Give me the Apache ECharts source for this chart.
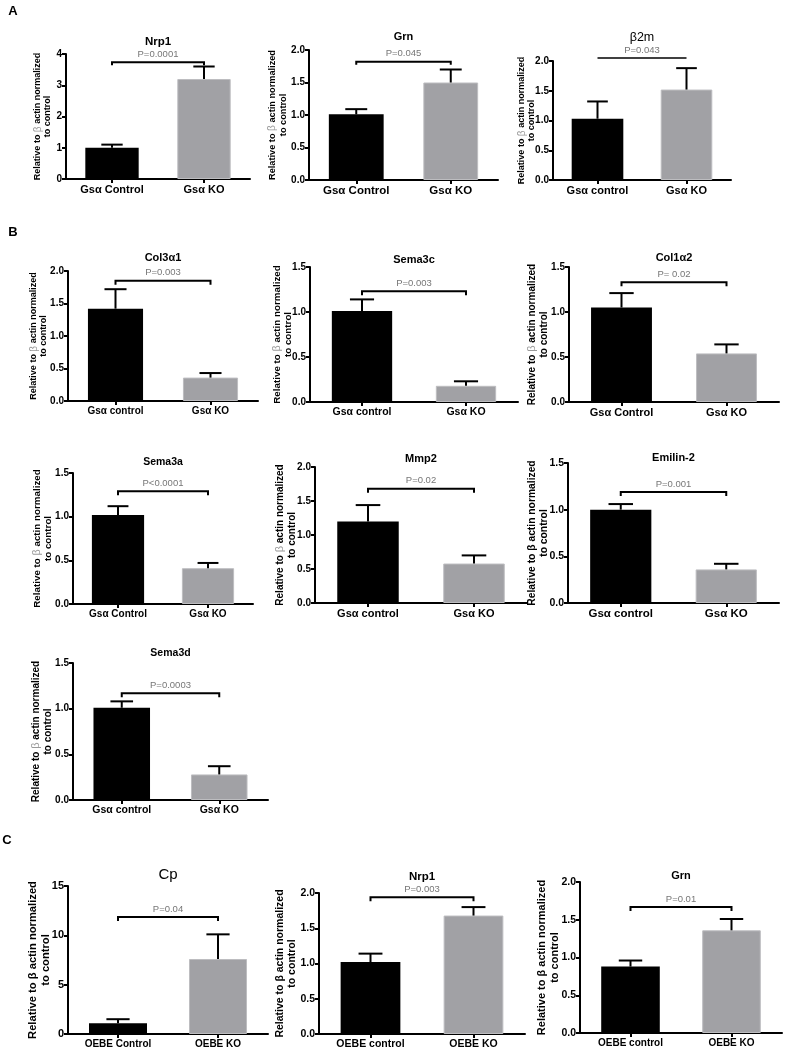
<!DOCTYPE html>
<html><head><meta charset="utf-8">
<script src="https://cdn.jsdelivr.net/npm/echarts@6/dist/echarts.min.js"></script>
<style>html,body{margin:0;padding:0;background:#fff}#c{width:792px;height:1050px}</style>
</head><body><div id="c"></div>
<script>
// ---------------- data ----------------
const genes = ['Nrp1','Grn','β2m','Col3α1','Sema3c','Col1α2','Sema3a','Mmp2','Emilin-2','Sema3d','Cp','Nrp1','Grn'];
const controlLabels = ['Gsα Control','Gsα Control','Gsα control','Gsα control','Gsα control','Gsα Control','Gsα Control','Gsα control','Gsα control','Gsα control','OEBE Control','OEBE control','OEBE control'];
const koLabels = ['Gsα KO','Gsα KO','Gsα KO','Gsα KO','Gsα KO','Gsα KO','Gsα KO','Gsα KO','Gsα KO','Gsα KO','OEBE KO','OEBE KO','OEBE KO'];
const controlMean  = [1.00,1.01,1.03,1.42,1.01,1.05,1.02,1.20,1.00,1.01,1.1,1.02,0.88];
const controlUpper = [1.10,1.09,1.32,1.72,1.14,1.21,1.12,1.44,1.06,1.08,1.5,1.14,0.96];
const koMean  = [3.20,1.50,1.52,0.36,0.18,0.54,0.41,0.58,0.36,0.28,7.6,1.68,1.36];
const koUpper = [3.60,1.70,1.88,0.43,0.23,0.64,0.47,0.70,0.42,0.37,10.1,1.80,1.51];
const pLabels = ['P=0.0001','P=0.045','P=0.043','P=0.003','P=0.003','P= 0.02','P<0.0001','P=0.02','P=0.001','P=0.0003','P=0.04','P=0.003','P=0.01'];
const bracketLevel = [3.74,1.82,2.05,1.85,1.23,1.33,1.29,1.68,1.19,1.17,11.86,1.94,1.67];
const yMax  = [4,2,2,2,1.5,1.5,1.5,2,1.5,1.5,15,2,2];
const yStep = [1,0.5,0.5,0.5,0.5,0.5,0.5,0.5,0.5,0.5,5,0.5,0.5];
const yDecimals = [0,1,1,1,1,1,1,1,1,1,0,1,1];
const yTitleLine1 = 'Relative to β actin normalized';
const yTitleLine2 = 'to control';
const sectionLabels = ['A','B','C'];

// ---------------- layout (positions / styles only) ----------------
const layout = [
 {x0:66, x1:250,y0:54, y1:179, ty:42, tf:11.5,tw:'bold',  ng:13,nf:9,   gb:1,drop:3,bl:2,  lf:11,  yf:10},
 {x0:309,x1:498,y0:50, y1:180, ty:37, tf:11,  tw:'bold',  ng:20,nf:9.2, gb:1,drop:3,bl:2,  lf:11.5,yf:10},
 {x0:553,x1:731,y0:61, y1:180, ty:38, tf:12.5,tw:'normal',ng:16,nf:9,   gb:1,drop:0,bl:1.5,lf:11,  yf:10},
 {x0:68, x1:258,y0:271,y1:401, ty:258,tf:11,  tw:'bold',  ng:19,nf:9,   gb:1,drop:4,bl:2,  lf:10,  yf:10},
 {x0:310,x1:518,y0:267,y1:402, ty:260,tf:11,  tw:'bold',  ng:16,nf:9.8, gb:1,drop:4,bl:2,  lf:10.5,yf:10},
 {x0:569,x1:779,y0:267,y1:402, ty:258,tf:11,  tw:'bold',  ng:19,nf:10,  gb:1,drop:4,bl:2,  lf:11,  yf:10},
 {x0:73, x1:253,y0:473,y1:604, ty:462,tf:10.5,tw:'bold',  ng:19,nf:9.8, gb:1,drop:4,bl:2,  lf:10,  yf:10},
 {x0:315,x1:527,y0:467,y1:603, ty:459,tf:11,  tw:'bold',  ng:17,nf:10,  gb:1,drop:4,bl:2,  lf:11,  yf:10},
 {x0:568,x1:779,y0:463,y1:603, ty:458,tf:11,  tw:'bold',  ng:18,nf:10.3,gb:0,drop:4,bl:2,  lf:11.5,yf:10.5},
 {x0:73, x1:268,y0:663,y1:800, ty:653,tf:10.5,tw:'bold',  ng:19,nf:10,  gb:1,drop:4,bl:2,  lf:10.5,yf:10},
 {x0:68, x1:268,y0:886,y1:1034,ty:875,tf:15,  tw:'normal',ng:16,nf:11.2,gb:0,drop:4,bl:2,  lf:10,  yf:11},
 {x0:319,x1:525,y0:893,y1:1034,ty:877,tf:11.5,tw:'bold',  ng:21,nf:10.5,gb:0,drop:4,bl:2,  lf:10.5,yf:10.5},
 {x0:580,x1:782,y0:882,y1:1033,ty:876,tf:11,  tw:'bold',  ng:19,nf:11,  gb:0,drop:4,bl:2,  lf:10,  yf:10.5}
];
const sectionPos = [[13,11],[13,232],[7,840]];

const FONT = '"Liberation Sans", Arial, Helvetica, sans-serif';
const PFONT = '"Liberation Sans Narrow", "Liberation Sans", Arial, sans-serif';
const GREY = '#a1a1a5';
const BAR_FRAC = 0.58;

function errRender(params, api){
  const c = api.value(0);
  const base = api.coord([c, api.value(1)]);
  const top = api.coord([c, api.value(2)]);
  const bw = api.size([1,0])[0]*BAR_FRAC;
  const hw = bw*0.2;
  return {type:'group', children:[
    {type:'line', shape:{x1:base[0],y1:base[1],x2:top[0],y2:top[1]}, style:{stroke:'#000',lineWidth:2,fill:'none'}},
    {type:'line', shape:{x1:top[0]-hw,y1:top[1],x2:top[0]+hw,y2:top[1]}, style:{stroke:'#000',lineWidth:2,fill:'none'}}
  ]};
}
function makeBracket(i){
  return function(params, api){
    const lv = api.value(1);
    const a = api.coord([api.value(0), lv]);
    const b = api.coord([api.value(2), lv]);
    const L = layout[i];
    const pts = L.drop ? [[a[0],a[1]+L.drop],[a[0],a[1]],[b[0],b[1]],[b[0],b[1]+L.drop]] : [[a[0],a[1]],[b[0],b[1]]];
    return {type:'group', children:[
      {type:'polyline', shape:{points:pts}, style:{stroke:'#000',lineWidth:L.bl,fill:'none'}},
      {type:'text', x:(a[0]+b[0])/2, y:a[1]-8, style:{text:pLabels[i], align:'center', verticalAlign:'middle', textAlign:'center', textVerticalAlign:'middle', fill:'#777', fontSize:9.5, fontFamily:PFONT}}
    ]};
  };
}

const grids=[], xAxes=[], yAxes=[], series=[], graphics=[];
layout.forEach((L,i)=>{
  grids.push({left:L.x0, top:L.y0, width:L.x1-L.x0, height:L.y1-L.y0, containLabel:false, outerBoundsMode:'none'});
  xAxes.push({type:'category', gridIndex:i, data:[controlLabels[i], koLabels[i]], boundaryGap:true,
    axisLine:{show:true,lineStyle:{color:'#000',width:2}},
    axisTick:{show:true,alignWithLabel:true,length:4,lineStyle:{color:'#000',width:2}},
    axisLabel:{color:'#000',fontWeight:'bold',fontSize:L.lf,fontFamily:FONT,margin:5,interval:0},
    splitLine:{show:false}});
  const nm = L.gb ? 'Relative to {g|β} actin normalized\n' + yTitleLine2 : yTitleLine1 + '\n' + yTitleLine2;
  yAxes.push({type:'value', gridIndex:i, min:0, max:yMax[i], interval:yStep[i],
    axisLine:{show:true,lineStyle:{color:'#000',width:2}},
    axisTick:{show:true,length:4,lineStyle:{color:'#000',width:2}},
    splitLine:{show:false},
    axisLabel:{color:'#000',fontWeight:'bold',fontSize:L.yf,fontFamily:FONT,margin:4,formatter:v=>v.toFixed(yDecimals[i])},
    name:nm, nameLocation:'middle', nameGap:L.ng, nameRotate:90, nameMoveOverlap:false,
    nameTextStyle:{color:'#000',fontWeight:'bold',fontSize:L.nf,fontFamily:FONT,lineHeight:Math.round(L.nf*1.15),
      rich:{g:{color:'#9a9a9a',fontWeight:'normal',fontSize:L.nf+1,fontFamily:FONT,lineHeight:Math.round(L.nf*1.15)}}}
  });
  series.push({type:'bar', xAxisIndex:i, yAxisIndex:i, barWidth:(BAR_FRAC*100)+'%', silent:true,
    data:[{value:controlMean[i], itemStyle:{color:'#000'}},
          {value:koMean[i], itemStyle:{color:GREY,borderColor:'#bdbdc0',borderWidth:1}}]});
  series.push({type:'custom', xAxisIndex:i, yAxisIndex:i, renderItem:errRender, silent:true, z:3,
    data:[[0,controlMean[i],controlUpper[i]],[1,koMean[i],koUpper[i]]], encode:{x:0,y:[1,2]}});
  series.push({type:'custom', xAxisIndex:i, yAxisIndex:i, renderItem:makeBracket(i), silent:true, z:4, clip:false,
    data:[[0,bracketLevel[i],1]], encode:{x:0,y:1}});
  graphics.push({type:'text', x:(L.x0+L.x1)/2, y:L.ty, style:{text:genes[i], align:'center', verticalAlign:'middle', textAlign:'center', textVerticalAlign:'middle', fill:'#000', fontSize:L.tf, fontWeight:L.tw, fontFamily:FONT}});
});
sectionLabels.forEach((s,k)=>{
  graphics.push({type:'text', x:sectionPos[k][0], y:sectionPos[k][1], style:{text:s, align:'center', verticalAlign:'middle', textAlign:'center', textVerticalAlign:'middle', fill:'#000', fontSize:13, fontWeight:'bold', fontFamily:FONT}});
});

const chart = echarts.init(document.getElementById('c'));
chart.setOption({animation:false, backgroundColor:'#fff', grid:grids, xAxis:xAxes, yAxis:yAxes, series:series, graphic:graphics});
</script>
</body></html>
